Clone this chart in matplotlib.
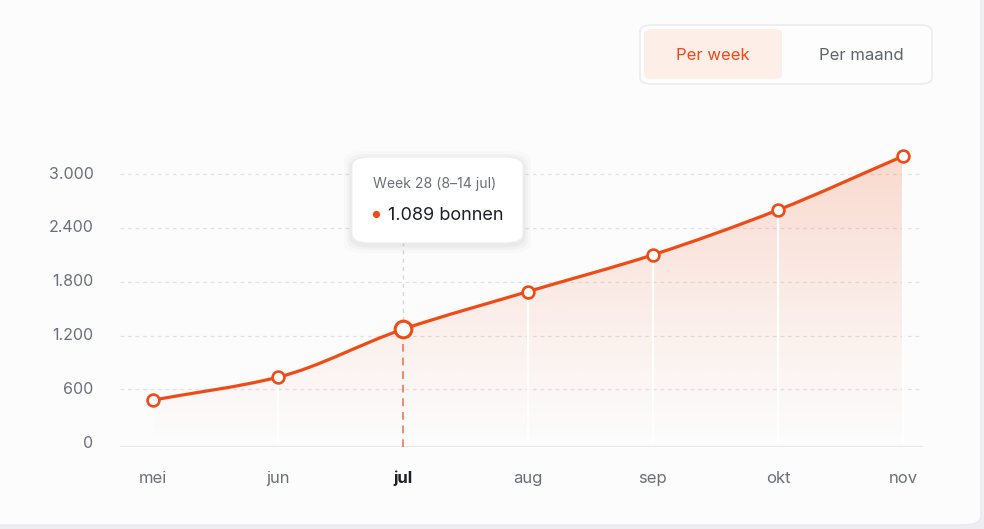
import numpy as np
import matplotlib
matplotlib.use("Agg")
import matplotlib.pyplot as plt
from matplotlib.patches import FancyBboxPatch, PathPatch
from matplotlib.path import Path
from matplotlib.colors import to_rgb

plt.rcParams['font.family'] = ['Inter', 'DejaVu Sans']

months = ["mei", "jun", "jul", "aug", "sep", "okt", "nov"]
values = [480, 735, 1270, 1690, 2100, 2600, 3200]
y_ticks = [0, 600, 1200, 1800, 2400, 3000]
y_tick_labels = ["0", "600", "1.200", "1.800", "2.400", "3.000"]
active_index = 2
tooltip_title = "Week 28 (8\u201314 jul)"
tooltip_value = "1.089 bonnen"
toggle_labels = ["Per week", "Per maand"]

ORANGE = "#EE4B17"
GRID = "#e0e1e5"
TICK = "#6b6f78"

W, H = 984, 529
fig = plt.figure(figsize=(W / 100, H / 100), dpi=100)
fig.patch.set_facecolor("#eeedf2")

# card background
card = FancyBboxPatch((-20 / W, 4 / H), (1001) / W, (H + 30) / H,
                      boxstyle="round,pad=0,rounding_size=0.018",
                      transform=fig.transFigure, facecolor="#fcfcfc",
                      edgecolor="#e9e9ee", linewidth=1, zorder=-1)
fig.patches.append(card)

def fx(px):
    return px / W

def fy(py):
    return 1 - py / H

ax_l, ax_r, ax_t, ax_b = 120, 923, 140, 447
ax = fig.add_axes([fx(ax_l), fy(ax_b), (ax_r - ax_l) / W, (ax_b - ax_t) / H])
ax.set_zorder(2)
ax.set_facecolor("none")
px_per_600 = 53.8
y0_px = 443.1
ylim = (-(ax_b - y0_px) * 600 / px_per_600, (y0_px - ax_t) * 600 / px_per_600)
xlim = (-33 / 125, 6 + 20 / 125)

x = np.arange(len(months))
y = np.array(values, dtype=float)

# monotone cubic (Fritsch-Carlson) tangents for smooth path
dx = np.diff(x)
dy = np.diff(y)
sl = dy / dx
m = np.zeros(len(x))
m[0], m[-1] = sl[0], sl[-1]
for i in range(1, len(x) - 1):
    if sl[i - 1] * sl[i] <= 0:
        m[i] = 0
    else:
        m[i] = 3 * (dx[i - 1] + dx[i]) / ((2 * dx[i] + dx[i - 1]) / sl[i - 1] + (dx[i] + 2 * dx[i - 1]) / sl[i])

verts = [(x[0], y[0])]
codes = [Path.MOVETO]
for i in range(len(x) - 1):
    h = dx[i] / 3
    verts += [(x[i] + h, y[i] + m[i] * h), (x[i + 1] - h, y[i + 1] - m[i + 1] * h), (x[i + 1], y[i + 1])]
    codes += [Path.CURVE4] * 3
line_path = Path(verts, codes)

# area polygon with vertical gradient
area_verts = verts + [(x[-1], 0), (x[0], 0), (x[0], y[0])]
area_codes = codes + [Path.LINETO, Path.LINETO, Path.CLOSEPOLY]
area_path = Path(area_verts, area_codes)
clip = PathPatch(area_path, facecolor="none", edgecolor="none", transform=ax.transData)
ax.add_patch(clip)
r, g, b = to_rgb("#F26A3D")
grad = np.zeros((256, 2, 4))
alpha = np.linspace(0.0, 0.27, 256) ** 1.1
grad[..., 0], grad[..., 1], grad[..., 2] = r, g, b
grad[..., 3] = alpha[:, None]
im = ax.imshow(grad, extent=[x[0], x[-1], 0, y.max()], origin="lower",
               aspect="auto", zorder=1, interpolation="bilinear")
im.set_clip_path(clip)
ax.set_xlim(*xlim)
ax.set_ylim(*ylim)

# grid
for t in y_ticks[1:]:
    ax.axhline(t, color=GRID, lw=0.9, ls=(0, (3, 3)), zorder=0.5)
ax.axhline(ylim[0], color="#e6e7ea", lw=1.6, zorder=0.5)

# white vertical drop lines
for i in range(1, len(x)):
    if i == active_index:
        continue
    ax.plot([x[i], x[i]], [0, y[i]], color="white", lw=1.6, alpha=0.95, zorder=1.5)

# cursor line
ax.plot([x[active_index], x[active_index]], [y[active_index], 2900],
        color="#d5d6da", lw=1, ls=(0, (3, 3)), zorder=1.6)
ax.plot([x[active_index], x[active_index]], [ylim[0], y[active_index]],
        color="#F08A68", lw=1.4, ls=(0, (4, 3)), zorder=1.6)

ax.add_patch(PathPatch(line_path, facecolor="none", edgecolor=ORANGE, lw=2.3,
                       capstyle="round", joinstyle="round", zorder=3))
for i in range(len(x)):
    big = i == active_index
    ax.plot(x[i], y[i], marker="o", ms=12 if big else 8.5, mfc="white",
            mec=ORANGE, mew=2.2 if big else 1.9, zorder=4)

ax.set_yticks(y_ticks)
ax.set_yticklabels(y_tick_labels)
ax.set_xticks(x)
ax.set_xticklabels(months)
ax.tick_params(axis="y", length=0, pad=19, labelsize=11.5, labelcolor=TICK)
ax.tick_params(axis="x", length=0, pad=17, labelsize=12, labelcolor=TICK)
for lab in ax.get_yticklabels():
    lab.set_verticalalignment("center")
for i, lab in enumerate(ax.get_xticklabels()):
    if i == active_index:
        lab.set_fontweight("bold")
        lab.set_color("#1d2026")
for s in ax.spines.values():
    s.set_visible(False)

# tooltip
for k, a in [(8, 0.015), (5, 0.022), (2.5, 0.03)]:
    sh = FancyBboxPatch((fx(352 - k), fy(243 + k + 2)), (171 + 2 * k) / W, (86 + 2 * k) / H,
                        boxstyle="round,pad=0,rounding_size=0.02", transform=fig.transFigure,
                        facecolor="black", edgecolor="none", alpha=a, zorder=5)
    fig.patches.append(sh)
tip = FancyBboxPatch((fx(352), fy(243)), 171 / W, 86 / H,
                     boxstyle="round,pad=0,rounding_size=0.018", transform=fig.transFigure,
                     facecolor="white", edgecolor="#eeeef1", lw=0.8, zorder=6)
fig.patches.append(tip)
fig.text(fx(373), fy(184), tooltip_title, fontsize=10.1, color="#6b6f78", va="center", ha="left", zorder=7)
fig.text(fx(376), fy(215), "\u25CF", fontsize=7, color=ORANGE, va="center", ha="center", zorder=7)
fig.text(fx(388), fy(215), tooltip_value, fontsize=13, color="#1d2026", va="center", ha="left", zorder=7)

# toggle
outer = FancyBboxPatch((fx(640), fy(84)), 292 / W, 59 / H,
                       boxstyle="round,pad=0,rounding_size=0.012", transform=fig.transFigure,
                       facecolor="#fdfdfd", edgecolor="#ebebee", lw=1.1, zorder=5)
fig.patches.append(outer)
inner = FancyBboxPatch((fx(644), fy(79)), 138 / W, 50 / H,
                       boxstyle="round,pad=0,rounding_size=0.009", transform=fig.transFigure,
                       facecolor="#fdeee7", edgecolor="none", zorder=6)
fig.patches.append(inner)
fig.text(fx(713), fy(55), toggle_labels[0], fontsize=12, color=ORANGE, ha="center", va="center", zorder=7)
fig.text(fx(861), fy(55), toggle_labels[1], fontsize=12, color="#5f636b", ha="center", va="center", zorder=7)

fig.savefig("out.png", dpi=100, facecolor=fig.get_facecolor())
